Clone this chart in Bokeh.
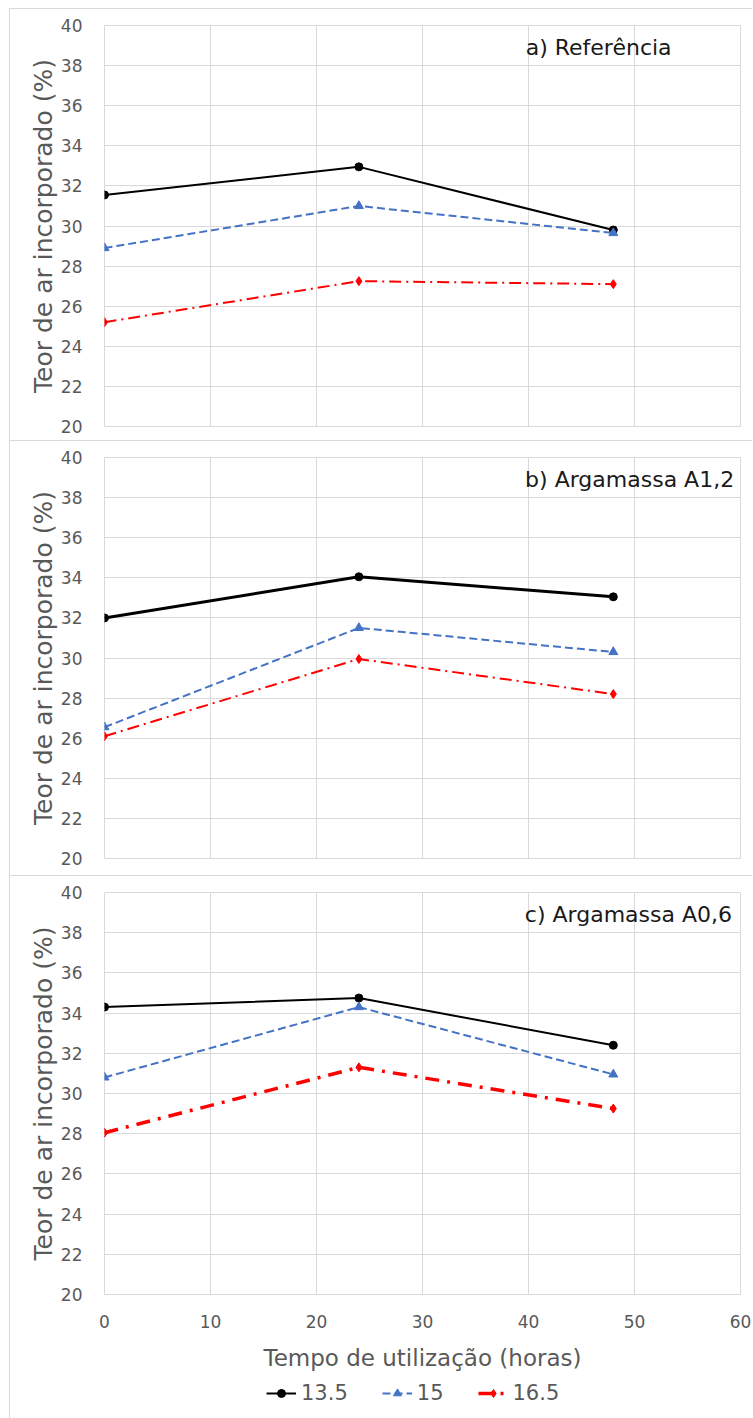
from bokeh.plotting import figure
from bokeh.layouts import column
from bokeh.models import Label, Legend, LegendItem, FixedTicker, Range1d
from bokeh.embed import file_html
from bokeh.resources import INLINE

hours = [0, 24, 48]
series_names = ["13.5", "15", "16.5"]
ref_135 = [31.55, 32.95, 29.8]
ref_15 = [28.9, 31.0, 29.65]
ref_165 = [25.2, 27.25, 27.1]
a12_135 = [32.0, 34.05, 33.05]
a12_15 = [26.55, 31.5, 30.3]
a12_165 = [26.1, 29.95, 28.2]
a06_135 = [34.3, 34.75, 32.4]
a06_15 = [30.8, 34.3, 30.95]
a06_165 = [28.05, 31.3, 29.25]
titles = ["a) Referência", "b) Argamassa A1,2", "c) Argamassa A0,6"]
x_ticks = [0, 10, 20, 30, 40, 50, 60]
y_ticks = [20, 22, 24, 26, 28, 30, 32, 34, 36, 38, 40]

FONT = "DejaVu Sans"
GRAY = "#595959"
GRID = "#d9d9d9"
BLUE = "#4472C4"
RED = "#FF0000"


def draw_series(p, xs, s135, s15, s165, widths):
    w1, w2, w3 = widths
    l1 = p.line(xs, s135, line_color="black", line_width=w1)
    m1 = p.scatter(xs, s135, marker="circle", size=8, color="black")
    l2 = p.line(xs, s15, line_color=BLUE, line_width=w2, line_dash="8 4")
    m2 = p.scatter(xs, s15, marker="triangle", size=9, color=BLUE)
    dash3 = "14 8 3 8" if w3 > 2.5 else "12 5 2 5"
    l3 = p.line(xs, s165, line_color=RED, line_width=w3, line_dash=dash3)
    m3 = p.scatter(xs, s165, marker="diamond", size=9, color=RED)
    return (l1, m1), (l2, m2), (l3, m3)


def make_panel(title, s135, s15, s165, height, top, bottom, last, widths, title_x):
    p = figure(width=743, height=height, output_backend="svg", toolbar_location=None,
               x_range=Range1d(0, 60), y_range=Range1d(20, 40),
               min_border_left=94, min_border_right=13,
               min_border_top=top, min_border_bottom=bottom,
               styles={"border-left": "1px solid #d9d9d9", "border-top": "1px solid #d9d9d9"})
    p.outline_line_color = GRID
    p.background_fill_color = "white"
    p.border_fill_color = "white"
    p.xgrid.grid_line_color = GRID
    p.ygrid.grid_line_color = GRID
    p.xaxis.ticker = FixedTicker(ticks=x_ticks)
    p.yaxis.ticker = FixedTicker(ticks=y_ticks)
    for ax in (p.xaxis, p.yaxis):
        ax.axis_line_color = None
        ax.major_tick_line_color = None
        ax.minor_tick_line_color = None
        ax.major_label_text_font = FONT
        ax.major_label_text_color = GRAY
        ax.major_label_text_font_size = "17px"
        ax.axis_label_text_font = FONT
        ax.axis_label_text_color = GRAY
        ax.axis_label_text_font_style = "normal"
    p.yaxis.axis_label = "Teor de ar incorporado (%)"
    p.yaxis.axis_label_text_font_size = "25px"
    p.yaxis.major_label_standoff = 16
    p.yaxis.axis_label_standoff = 0
    if last:
        p.xaxis.axis_label = "Tempo de utilização (horas)"
        p.xaxis.axis_label_text_font_size = "23px"
        p.xaxis.major_label_standoff = 14
        p.xaxis.axis_label_standoff = 14
    else:
        p.xaxis.visible = False

    draw_series(p, hours, s135, s15, s165, widths)

    p.add_layout(Label(x=title_x, y=38.9, text=title,
                       text_align="right", text_baseline="middle",
                       text_font=FONT, text_font_size="22px", text_color="#1a1a1a"))
    return p


pa = make_panel(titles[0], ref_135, ref_15, ref_165, 432, 16, 15, False, (2, 2, 2), 53.5)
pb = make_panel(titles[1], a12_135, a12_15, a12_165, 435, 16, 18, False, (3, 2, 2), 59.4)
pc = make_panel(titles[2], a06_135, a06_15, a06_165, 500, 16, 82, True, (2, 2, 3.5), 59.2)

# legend strip below the last panel (series drawn outside its visible range)
pl = figure(width=743, height=45, output_backend="svg", toolbar_location=None,
            x_range=Range1d(1000, 1001), y_range=Range1d(1000, 1001), min_border=0,
            styles={"border-left": "1px solid #d9d9d9"})
pl.axis.visible = False
pl.grid.visible = False
pl.outline_line_color = None
items = draw_series(pl, hours, a06_135, a06_15, a06_165, (2, 2, 3.5))
legend = Legend(items=[LegendItem(label=n, renderers=list(r)) for n, r in zip(series_names, items)],
                orientation="horizontal", location=(162, 15))
legend.label_text_font = FONT
legend.label_text_font_size = "21px"
legend.label_text_color = GRAY
legend.border_line_color = None
legend.background_fill_alpha = 0
legend.glyph_width = 30
legend.spacing = 34
legend.padding = 2
legend.margin = 0
legend.label_standoff = 5
pl.add_layout(legend)

layout = column(pa, pb, pc, pl, spacing=0, margin=(8, 0, 0, 9))
open("out.html", "w").write(file_html(layout, INLINE))
